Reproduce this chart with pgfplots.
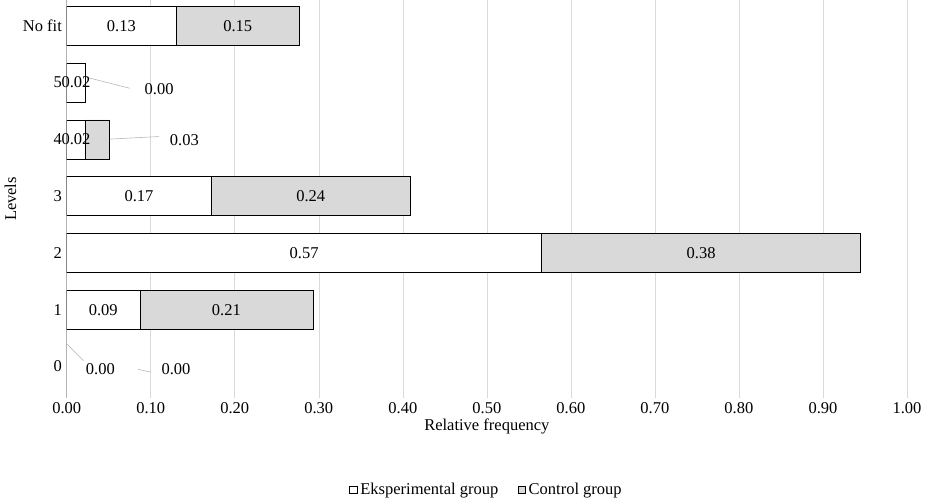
\documentclass[border=0pt]{standalone}
\usepackage{pgfplots}
\pgfplotsset{compat=1.18}
\usepackage{fontspec}
\setmainfont{Liberation Serif}
\begin{document}
\begin{tikzpicture}
\begin{axis}[
  scale only axis, width=611pt, height=289pt,
  xbar stacked, bar width=28.5pt,
  xmin=0, xmax=1, ymin=-0.55, ymax=6.45,
  xtick={0,0.1,...,1.0},
  xticklabel style={/pgf/number format/.cd,fixed,fixed zerofill,precision=2},
  /pgf/number format/assume math mode=true,
  ytick={0,...,6}, yticklabels={0,1,2,3,4,5,No fit},
  xmajorgrids, grid style={gray!30},
  axis x line*=bottom, axis y line*=left,
  x axis line style={draw=none}, tick style={draw=none},
  y axis line style={gray!60},
  xlabel={Relative frequency}, ylabel={Levels},
  font=\fontsize{12}{14}\selectfont,
  xlabel style={yshift=3pt}, ylabel style={yshift=-2pt},
  legend style={at={(0.5,-0.2)}, anchor=north, draw=none, legend columns=2,
    /tikz/every even column/.append style={column sep=12pt}},
  legend image code/.code={\draw[#1] (0cm,-0.1cm) rectangle (0.2cm,0.1cm);},
  nodes near coords, point meta=explicit symbolic,
  every node near coord/.append style={font=\fontsize{12}{14}\selectfont},
]
\addplot[fill=white, draw=black, nodes near coords align=center] table[meta=l] {
x y l
0 0 {}
0.087 1 0.09
0.565 2 0.57
0.172 3 0.17
0.022 4 0.02
0.022 5 0.02
0.13 6 0.13
};
\addplot[fill=gray!30, draw=black, nodes near coords align=center] table[meta=l] {
x y l
0 0 {}
0.206 1 0.21
0.38 2 0.38
0.237 3 0.24
0.029 4 {}
0 5 {}
0.147 6 0.15
};
\legend{Eksperimental group, Control group}
\draw[gray!60] (axis cs:0,0.4) -- (axis cs:0.02,0.1);
\draw[gray!60] (axis cs:0.085,-0.05) -- (axis cs:0.1,-0.1);
\node at (axis cs:0.04,-0.05) {0.00};
\node at (axis cs:0.13,-0.05) {0.00};
\draw[gray!60] (axis cs:0.022,5.1) -- (axis cs:0.075,4.9);
\node at (axis cs:0.11,4.88) {0.00};
\draw[gray!60] (axis cs:0.045,4.0) -- (axis cs:0.11,4.05);
\node at (axis cs:0.14,3.98) {0.03};
\end{axis}
\end{tikzpicture}
\end{document}
